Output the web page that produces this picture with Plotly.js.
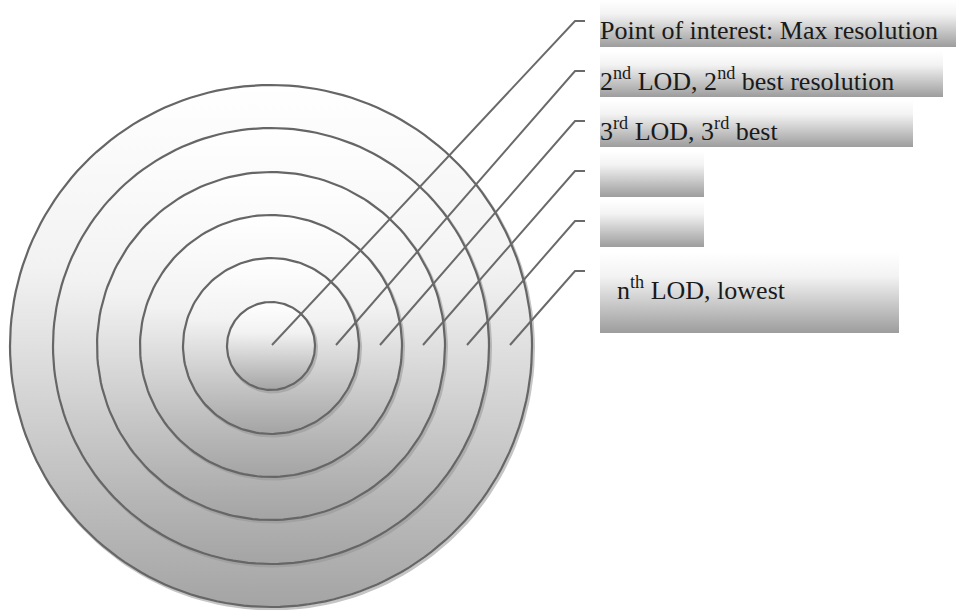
<!DOCTYPE html>
<html>
<head>
<meta charset="utf-8">
<script src="https://cdn.plot.ly/plotly-3.0.1.min.js"></script>
<style>html,body{margin:0;padding:0;background:#fff;}#chart{width:958px;height:610px;}</style>
</head>
<body>
<div id="chart"></div>
<script>
// Diagram data (pixel-space coordinates of the canvas, y down)
const ringCenter = [271, 346];
const ringRadii = [261, 218, 174, 131, 88, 44];

const labels = [
  "Point of interest: Max resolution",
  "2<sup>nd</sup> LOD, 2<sup>nd</sup> best resolution",
  "3<sup>rd</sup> LOD, 3<sup>rd</sup> best",
  "",
  "",
  "n<sup>th</sup> LOD, lowest"
];
const boxLeft = [600, 600, 600, 600, 600, 600];
const boxRight = [956, 943, 913, 704, 704, 899];
const boxTop = [0, 51, 100, 151, 200, 252];
const boxBottom = [47, 97, 147, 197, 247, 333];
const labelX = [598, 598, 598, 598, 598, 615];
const labelY = [30, 79, 129, 174, 224, 288];

const leaderStartX = [272, 336, 380, 423, 467, 510];
const leaderStartY = [345, 345, 345, 345, 345, 345];
const leaderCornerX = [575, 575, 575, 575, 575, 575];
const leaderCornerY = [21, 71, 121, 171, 221, 271];
const leaderEndX = [585, 585, 585, 585, 585, 585];

const traces = [];
// rings, outermost first
ringRadii.forEach(function (r) {
  const xs = [], ys = [];
  for (let a = 0; a <= 360; a += 2) {
    const t = a * Math.PI / 180;
    xs.push(ringCenter[0] + r * Math.cos(t));
    ys.push(ringCenter[1] + r * Math.sin(t));
  }
  // soft shadow
  traces.push({
    x: xs.map(v => v + 1.5), y: ys.map(v => v + 2), mode: 'lines', type: 'scatter',
    line: {color: 'rgba(150,150,150,0.55)', width: 3}, hoverinfo: 'skip', showlegend: false
  });
  traces.push({
    x: xs, y: ys, mode: 'lines', type: 'scatter', fill: 'toself',
    fillgradient: {type: 'vertical', start: ringCenter[1] - r, stop: ringCenter[1] + r,
      colorscale: [[0, '#ffffff'], [0.35, '#f2f2f2'], [1, '#a4a4a4']]},
    line: {color: '#666666', width: 2.2}, hoverinfo: 'skip', showlegend: false
  });
});

// leader lines
leaderStartX.forEach(function (sx, i) {
  traces.push({
    x: [sx, leaderCornerX[i], leaderEndX[i]],
    y: [leaderStartY[i], leaderCornerY[i], leaderCornerY[i]],
    mode: 'lines', type: 'scatter',
    line: {color: '#6a6a6a', width: 2}, hoverinfo: 'skip', showlegend: false
  });
});

// label boxes
boxLeft.forEach(function (bx, i) {
  traces.push({
    x: [bx, boxRight[i], boxRight[i], bx, bx],
    y: [boxTop[i], boxTop[i], boxBottom[i], boxBottom[i], boxTop[i]],
    mode: 'lines', type: 'scatter', fill: 'toself',
    fillgradient: {type: 'vertical', start: boxTop[i], stop: boxBottom[i],
      colorscale: [[0, '#ffffff'], [0.3, '#f3f3f3'], [1, '#9d9d9d']]},
    line: {width: 0, color: 'rgba(0,0,0,0)'}, hoverinfo: 'skip', showlegend: false
  });
});

const annotations = labels.map(function (t, i) {
  return {
    x: labelX[i], y: labelY[i], xref: 'x', yref: 'y', text: t, showarrow: false,
    xanchor: 'left', yanchor: 'middle', align: 'left',
    font: {family: 'Liberation Serif, Times New Roman, serif', size: 26, color: '#1a1a1a'}
  };
}).filter(a => a.text !== "");

const layout = {
  width: 958, height: 610,
  margin: {l: 0, r: 0, t: 0, b: 0, pad: 0},
  paper_bgcolor: '#ffffff', plot_bgcolor: '#ffffff',
  xaxis: {range: [0, 958], visible: false, fixedrange: true},
  yaxis: {range: [610, 0], visible: false, fixedrange: true},
  showlegend: false,
  annotations: annotations
};

Plotly.newPlot('chart', traces, layout, {staticPlot: true, displayModeBar: false});
</script>
</body>
</html>
